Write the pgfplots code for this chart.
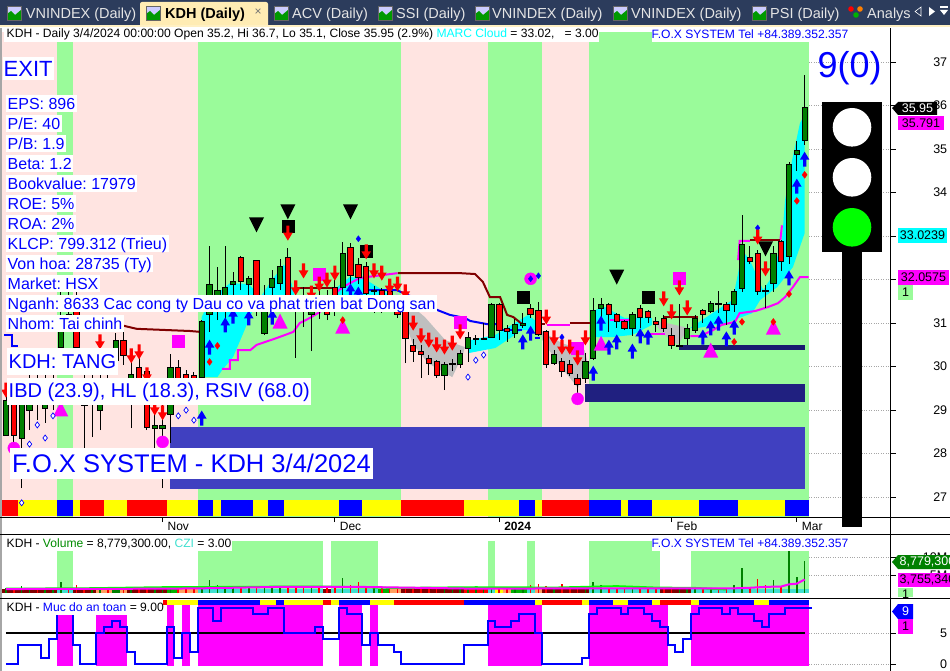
\documentclass[border=0pt]{standalone}
\usepackage{pgfplots}
\pgfplotsset{compat=1.18}
\usepackage{fontspec}
\setmainfont{Liberation Sans}
\frenchspacing
\definecolor{pg}{RGB}{154,251,154}
\definecolor{pk}{RGB}{255,228,225}
\definecolor{cg}{RGB}{0,128,0}
\definecolor{magenta}{RGB}{255,0,255}
\definecolor{cyan}{RGB}{0,255,255}
\definecolor{yellow}{RGB}{255,255,0}
\definecolor{nav1}{RGB}{64,64,192}
\definecolor{nav2}{RGB}{32,32,128}
\definecolor{nav3}{RGB}{25,25,112}
\definecolor{dred}{RGB}{128,0,0}
\definecolor{turq}{RGB}{64,224,208}
\definecolor{orng}{RGB}{255,160,96}
\definecolor{barbg}{RGB}{44,60,92}
\definecolor{tabbg}{RGB}{255,236,180}
\newcommand\BB[5]{\addplot[fill=#5,draw=none,forget plot] coordinates {(#1,#3)(#2,#3)(#2,#4)(#1,#4)} --cycle;}
\newcommand\Cndl[6]{\pgfmathsetmacro\xa{#2-.34}\pgfmathsetmacro\xb{#2+.34}%
\edef\tmp{\noexpand\addplot[black,line width=.9pt,forget plot] coordinates {(#2,#6)(#2,#5)};
\noexpand\addplot[fill=#1,draw=black,line width=.9pt,forget plot] coordinates {(\xa,#4)(\xb,#4)(\xb,#3)(\xa,#3)} --cycle;}\tmp}
\newcommand\CG[5]{\Cndl{cg}{#1}{#2}{#3}{#4}{#5}}
\newcommand\CR[5]{\Cndl{red}{#1}{#2}{#3}{#4}{#5}}
\pgfdeclareplotmark{arrU}{\pgfpathmoveto{\pgfpoint{0pt}{7.5pt}}\pgfpathlineto{\pgfpoint{4.8pt}{-.5pt}}\pgfpathlineto{\pgfpoint{1.6pt}{-.5pt}}\pgfpathlineto{\pgfpoint{1.6pt}{-7.5pt}}\pgfpathlineto{\pgfpoint{-1.6pt}{-7.5pt}}\pgfpathlineto{\pgfpoint{-1.6pt}{-.5pt}}\pgfpathlineto{\pgfpoint{-4.8pt}{-.5pt}}\pgfpathclose\pgfusepathqfill}
\pgfdeclareplotmark{arrD}{\pgfpathmoveto{\pgfpoint{0pt}{-7.5pt}}\pgfpathlineto{\pgfpoint{4.8pt}{.5pt}}\pgfpathlineto{\pgfpoint{1.6pt}{.5pt}}\pgfpathlineto{\pgfpoint{1.6pt}{7.5pt}}\pgfpathlineto{\pgfpoint{-1.6pt}{7.5pt}}\pgfpathlineto{\pgfpoint{-1.6pt}{.5pt}}\pgfpathlineto{\pgfpoint{-4.8pt}{.5pt}}\pgfpathclose\pgfusepathqfill}
\pgfdeclareplotmark{triD}{\pgfpathmoveto{\pgfpoint{0pt}{-7.5pt}}\pgfpathlineto{\pgfpoint{7.5pt}{7.5pt}}\pgfpathlineto{\pgfpoint{-7.5pt}{7.5pt}}\pgfpathclose\pgfusepathqfill}
\pgfdeclareplotmark{triU}{\pgfpathmoveto{\pgfpoint{0pt}{7.5pt}}\pgfpathlineto{\pgfpoint{7.5pt}{-7.5pt}}\pgfpathlineto{\pgfpoint{-7.5pt}{-7.5pt}}\pgfpathclose\pgfusepathqfill}
\pgfplotsset{panel/.style={scale only axis,width=890.7pt,xmin=-0.766,xmax=112.99,
  axis y line*=right,tick align=outside,major tick length=5pt,tick style={black,line width=.8pt},
  axis line style={draw=none},ymajorgrids,grid style={dotted,black!35,line width=.8pt},
  /pgf/number format/assume math mode=true,
  yticklabel style={font=\fontsize{12.5}{13}\selectfont,anchor=east}}}
\tikzset{wb/.style={fill=white,inner xsep=1.5pt,inner ysep=1pt,anchor=west,text=blue,text height=13.5pt,text depth=1.5pt,font=\fontsize{16}{16}\selectfont},
 tag/.style={anchor=center,font=\fontsize{12.5}{13}\selectfont,inner sep=0pt}}
\newcommand\tabicon[1]{\fill[white!80!blue] (#1,-20) rectangle +(14,14);\fill[green!60!black] (#1,-20) -- +(0,6) -- +(4,9) -- +(8,5) -- +(14,10) -- +(14,0) -- cycle;\draw[black!60,line width=.5pt] (#1,-20) rectangle +(14,14);}
\begin{document}
\begin{tikzpicture}[x=1pt,y=1pt]
\fill[white] (0,0) rectangle (950,-671);
% ---- main panel
\begin{axis}[panel,at={(0pt,-517pt)},anchor=south west,height=485pt,ymin=26.544,ymax=37.694,
 axis x line*=bottom,
 xtick={20,42,63,85,101},xticklabels={Nov,Dec,\textbf{2024},Feb,Mar},
 xticklabel style={anchor=north west,font=\fontsize{12}{12}\selectfont,xshift=1.5pt,yshift=3.5pt},
 ytick={27,28,...,37},yticklabel style={xshift=55pt}]
\BB{-0.5}{6.5}{26.55}{37.69}{pk}\BB{6.5}{8.5}{26.55}{37.69}{pg}\BB{8.5}{24.5}{26.55}{37.69}{pk}
\BB{24.5}{50.5}{26.55}{37.69}{pg}\BB{50.5}{61.5}{26.55}{37.69}{pk}\BB{61.5}{68.5}{26.55}{37.69}{pg}
\BB{68.5}{74.5}{26.55}{37.69}{pk}\BB{74.5}{102.5}{26.55}{37.69}{pg}
% bottom colour strip
\BB{-0.5}{1.5}{26.56}{26.94}{red}\BB{1.5}{6.5}{26.56}{26.94}{yellow}\BB{6.5}{8.5}{26.56}{26.94}{blue}
\BB{8.5}{9.5}{26.56}{26.94}{yellow}\BB{9.5}{12.5}{26.56}{26.94}{red}\BB{12.5}{15.5}{26.56}{26.94}{yellow}
\BB{15.5}{20.5}{26.56}{26.94}{red}\BB{20.5}{24.5}{26.56}{26.94}{yellow}\BB{24.5}{26.5}{26.56}{26.94}{blue}
\BB{26.5}{27.5}{26.56}{26.94}{yellow}\BB{27.5}{31.5}{26.56}{26.94}{blue}\BB{31.5}{33.5}{26.56}{26.94}{yellow}
\BB{33.5}{35.5}{26.56}{26.94}{blue}\BB{35.5}{42.5}{26.56}{26.94}{yellow}\BB{42.5}{45.5}{26.56}{26.94}{blue}
\BB{45.5}{50.5}{26.56}{26.94}{yellow}\BB{50.5}{58.5}{26.56}{26.94}{red}\BB{58.5}{65.5}{26.56}{26.94}{yellow}
\BB{65.5}{67.5}{26.56}{26.94}{blue}\BB{67.5}{68.5}{26.56}{26.94}{yellow}\BB{68.5}{74.5}{26.56}{26.94}{red}
\BB{74.5}{78.5}{26.56}{26.94}{blue}\BB{78.5}{79.5}{26.56}{26.94}{yellow}\BB{79.5}{82.5}{26.56}{26.94}{blue}
\BB{82.5}{88.5}{26.56}{26.94}{yellow}\BB{88.5}{93.5}{26.56}{26.94}{blue}\BB{93.5}{99.5}{26.56}{26.94}{yellow}
\BB{99.5}{102.5}{26.56}{26.94}{blue}
% zones
\BB{21}{102}{27.19}{28.61}{nav1}\BB{74}{102}{29.19}{29.60}{nav2}\BB{86}{102}{30.38}{30.50}{nav3}
% cloud
\addplot[fill=cyan,draw=none,forget plot] coordinates {(25,29.76)(25,31.14)(26,31.53)(28.6,31.92)(31,31.9)(32.5,31.6)(34,32.0)(35.5,32.35)(36.5,31.9)(37,31.5)(32.05,31.53)(30.3,30.77)(29,30.22)(27.6,29.92)(27,29.76)} --cycle;
\addplot[fill=cyan,draw=none,forget plot] coordinates {(42.3,31.83)(43.9,32.06)(45.6,32.04)(48.1,31.76)(49.7,31.5)(42.3,31.5)} --cycle;
\addplot[fill=black!25,draw=none,forget plot] coordinates {(49.7,31.72)(53.5,31.14)(56.1,30.61)(58.6,30.45)(58.4,30.31)(57,29.76)(53.9,30.08)(51.9,30.54)(50.6,31.23)} --cycle;
\addplot[fill=cyan,draw=none,forget plot] coordinates {(59,30.31)(59.3,30.61)(62.5,30.73)(64.6,30.96)(66.7,31.19)(67.8,31.03)(67.6,30.84)(65.9,30.84)(62.5,30.43)} --cycle;
\addplot[fill=black!25,draw=none,forget plot] coordinates {(68.2,30.84)(71,30.54)(73.9,30.38)(74.2,30.15)(73.05,29.51)(70.5,30.08)(68.5,30.61)} --cycle;
\addplot[fill=cyan,draw=none,forget plot] coordinates {(75.2,31.30)(76.5,31.37)(79,31.12)(82.5,31.12)(82.5,30.96)(80,30.73)(77.4,30.68)(75.2,30.68)} --cycle;
\addplot[fill=black!25,draw=none,forget plot] coordinates {(82.6,31.07)(86.7,30.91)(87,30.84)(85.8,30.50)(83.8,30.77)} --cycle;
\addplot[fill=cyan,draw=none,forget plot] coordinates {(87.4,30.89)(91.8,31.42)(92.8,31.53)(93.5,32.15)(94,32.68)(95,32.45)(96.7,31.76)(97.8,32.06)(99.1,32.91)(99.5,33.83)(100.4,34.75)(101.4,35.6)(102,35.79)(102,33.07)(100.5,32.29)(98.5,31.83)(96.3,31.53)(95.3,31.23)(91.8,31.0)(88.4,30.89)} --cycle;
% lines
\addplot[magenta,line width=2pt,forget plot] coordinates {(27.6,29.95)(28.6,29.95)(28.6,30.15)(29.6,30.15)(29.6,30.38)(31.2,30.38)(32,30.5)(34.6,30.66)(36.7,30.80)(37.5,31.0)(38.8,31.12)(40.1,31.26)(41.5,31.6)(43,31.83)(45.2,32.04)(50,32.15)};
\addplot[magenta,line width=2pt,forget plot] coordinates {(69.1,30.96)(72,30.96)};
\addplot[magenta,line width=2pt,forget plot] coordinates {(77.1,31.07)(79.7,31.07)};
\addplot[magenta,line width=2pt,forget plot] coordinates {(82,30.75)(84.2,30.75)};
\addplot[magenta,line width=2pt,forget plot] coordinates {(87.4,30.70)(88.6,30.70)(90.3,30.84)(91.4,30.96)(93.1,31.03)(93.7,31.23)(95.7,31.28)(97.3,31.37)(98.6,31.46)(99.5,31.60)(100.5,31.83)(101.4,32.06)(102.5,32.06)};
\addplot[magenta,line width=2pt,forget plot] coordinates {(93.5,32.45)(93.7,32.89)(95,32.89)};
\addplot[magenta,line width=2pt,forget plot] coordinates {(98.9,32.91)(99.1,33.25)};
\addplot[blue,line width=2pt,forget plot] coordinates {(-0.25,30.73)(.77,30.73)(.77,30.48)(1.5,30.48)};
\addplot[blue,line width=2pt,forget plot] coordinates {(45.6,31.76)(49.9,31.76)(53.3,31.49)(54.2,31.37)(55.4,31.28)(56.7,31.19)(58.6,31.12)(59.3,31.05)(61.4,30.98)(63,30.98)};
\addplot[blue,line width=2pt,forget plot] coordinates {(63.5,30.84)(65.9,30.84)};
\addplot[blue,line width=2pt,forget plot] coordinates {(67.5,30.66)(68.2,30.66)};
\addplot[dred,line width=2pt,forget plot] coordinates {(14.6,30.96)(16.2,30.89)(16.7,30.87)(23.5,30.82)(24.8,30.80)};
\addplot[dred,line width=2pt,forget plot] coordinates {(37.2,31.8)(42,31.8)};
\addplot[dred,line width=2pt,forget plot] coordinates {(50.06,32.15)(58,32.15)(59.9,32.13)(60.9,31.95)(61.8,31.60)(63.1,31.60)(64,31.19)(64.8,31.14)(65.9,30.98)};
\addplot[dred,line width=2pt,forget plot] coordinates {(68.1,30.98)(68.8,30.98)};
\addplot[dred,line width=2pt,forget plot] coordinates {(72,31.0)(74.8,31.0)};
\addplot[dred,line width=2pt,forget plot] coordinates {(83.9,31.14)(88.4,31.14)};
\addplot[dred,line width=2pt,forget plot] coordinates {(95,32.91)(98.9,32.91)};
% candles: index, body top, body bottom, high, low
\CG{0}{29.23}{28.41}{29.35}{28.41}\CR{1}{29.23}{28.41}{29.35}{28.20}\CG{2}{29.33}{28.34}{29.58}{27.21}
\CG{3}{29.35}{29.00}{29.81}{28.54}\CR{4}{29.28}{29.19}{29.81}{28.77}\CG{5}{29.35}{29.03}{29.81}{28.71}
\CG{6}{29.74}{29.35}{30.15}{29.00}\CG{7}{30.96}{30.45}{31.72}{29.81}\CR{8}{31.19}{30.89}{31.72}{30.84}
\CR{9}{31.53}{30.45}{31.72}{29.81}\CR{10}{29.58}{29.12}{30.15}{28.13}\CG{11}{29.58}{29.23}{30.04}{28.38}
\CG{12}{29.58}{29.00}{30.38}{28.54}\CR{13}{29.58}{29.35}{30.04}{29.12}\CG{14}{30.61}{30.15}{30.77}{29.81}
\CR{15}{30.61}{30.25}{30.89}{30.04}\CG{16}{29.81}{29.35}{30.27}{28.59}\CR{17}{29.99}{29.46}{30.38}{29.35}
\CR{18}{29.88}{28.61}{29.97}{28.54}\CG{19}{28.64}{28.59}{29.23}{28.13}\CG{20}{28.64}{28.59}{29.23}{27.21}
\CG{21}{29.99}{28.91}{30.29}{28.25}\CR{22}{29.99}{29.35}{30.15}{29.23}\CR{23}{29.81}{29.65}{29.92}{29.35}
\CR{24}{29.79}{29.69}{29.88}{29.42}\CG{25}{31.03}{29.76}{31.07}{29.69}\CG{26}{31.90}{31.21}{32.77}{30.80}
\CG{27}{31.76}{31.53}{32.29}{31.07}\CG{28}{31.81}{31.53}{32.77}{31.07}\CG{29}{31.95}{31.90}{32.18}{31.26}
\CR{30}{32.50}{31.95}{32.54}{31.76}\CG{31}{32.02}{31.90}{32.09}{31.65}\CR{32}{32.45}{31.53}{32.45}{31.17}
\CG{33}{31.46}{30.77}{31.88}{30.73}\CG{34}{32.02}{31.83}{32.22}{31.53}\CG{35}{32.31}{31.92}{32.47}{31.76}
\CR{36}{32.50}{31.53}{32.73}{31.26}\CR{37}{31.62}{31.49}{31.76}{30.20}\CR{38}{31.58}{31.49}{31.83}{30.91}
\CG{39}{31.30}{31.19}{31.83}{30.36}\CR{40}{31.58}{31.35}{31.83}{31.10}\CR{41}{31.53}{31.21}{31.76}{31.07}
\CR{42}{31.81}{31.42}{32.0}{31.17}\CG{43}{32.61}{31.81}{32.87}{31.53}\CR{44}{32.75}{32.09}{32.84}{31.76}
\CR{45}{32.36}{32.04}{32.50}{31.90}\CR{46}{32.31}{31.69}{32.41}{31.53}\CG{47}{31.76}{31.72}{31.85}{31.23}
\CR{48}{31.76}{31.62}{31.81}{31.23}\CR{49}{31.72}{31.53}{31.81}{31.26}\CR{50}{31.53}{31.21}{31.65}{31.12}
\CR{51}{31.42}{30.66}{31.53}{30.08}\CR{52}{30.48}{30.34}{30.64}{30.11}\CR{53}{30.36}{30.29}{30.50}{29.74}
\CR{54}{30.20}{30.08}{30.27}{29.81}\CR{55}{30.11}{29.79}{30.15}{29.74}\CG{56}{30.06}{29.79}{30.11}{29.46}
\CG{57}{30.07}{30.05}{30.18}{29.90}\CG{58}{30.31}{30.04}{30.38}{29.97}\CG{59}{30.68}{30.43}{30.80}{30.11}
\CG{60}{30.66}{30.63}{30.73}{30.50}\CG{61}{30.66}{30.63}{31.00}{30.64}\CG{62}{31.42}{30.68}{31.46}{30.66}
\CR{63}{31.42}{30.84}{31.46}{30.61}\CR{64}{30.87}{30.80}{30.96}{30.57}\CG{65}{30.96}{30.77}{31.10}{30.66}
\CG{66}{31.0}{30.94}{31.23}{30.89}\CR{67}{31.35}{31.21}{31.44}{31.12}\CR{68}{31.30}{30.75}{31.49}{30.71}
\CR{69}{30.80}{30.04}{30.84}{29.97}\CG{70}{30.27}{30.08}{30.38}{30.04}\CR{71}{30.11}{29.88}{30.20}{29.76}
\CR{72}{30.06}{29.85}{30.15}{29.79}\CR{73}{29.72}{29.60}{29.83}{29.33}\CG{74}{30.13}{29.72}{30.31}{29.62}
\CG{75}{31.30}{30.20}{31.58}{30.15}\CG{76}{31.42}{31.35}{31.58}{31.14}\CR{77}{31.42}{31.19}{31.46}{30.80}
\CR{78}{31.21}{31.03}{31.23}{30.89}\CR{79}{31.03}{30.89}{31.07}{30.84}\CG{80}{31.21}{30.89}{31.26}{30.71}
\CR{81}{31.35}{31.14}{31.42}{30.89}\CR{82}{31.26}{31.14}{31.30}{31.0}\CR{83}{31.05}{30.98}{31.14}{30.80}
\CR{84}{31.10}{30.89}{31.19}{30.80}\CR{85}{30.71}{30.48}{30.89}{30.41}\CG{86}{30.49}{30.47}{31.44}{30.45}
\CG{87}{30.87}{30.66}{30.98}{30.50}\CG{88}{31.10}{30.84}{31.19}{30.77}\CR{89}{31.30}{31.21}{31.33}{31.0}
\CG{90}{31.46}{31.28}{31.51}{31.23}\CR{91}{31.46}{31.42}{31.74}{31.23}\CR{92}{31.42}{31.30}{31.49}{30.96}
\CG{93}{31.72}{31.42}{31.79}{31.26}\CG{94}{32.80}{31.79}{33.49}{31.72}\CR{95}{32.50}{32.41}{32.77}{32.36}
\CR{96}{32.61}{31.74}{32.68}{31.65}\CG{97}{31.75}{31.73}{31.88}{31.35}\CG{98}{32.61}{31.92}{32.77}{31.72}
\CR{99}{32.87}{32.41}{32.91}{32.20}\CG{100}{34.66}{32.54}{34.71}{32.36}\CG{101}{34.96}{34.89}{35.19}{34.50}
\CG{102}{35.95}{35.2}{36.7}{35.1}
% signals
\addplot[only marks,mark=square*,mark size=6pt,mark options={draw=black,fill=black},forget plot] coordinates {(36,33.23)(46,32.66)(66,31.60)(82,31.60)};
\addplot[only marks,mark=square*,mark size=6pt,mark options={draw=magenta,fill=magenta},forget plot] coordinates {(22,30.59)(40,32.13)(58,31.03)(73,30.43)(86,32.04)};
\addplot[only marks,mark=*,mark size=6pt,mark options={draw=magenta,fill=magenta},forget plot] coordinates {(20,28.27)(73,29.26)(67,32.02)(1,28.13)};
\addplot[only marks,mark=triD,mark options={fill=black,draw=black},forget plot] coordinates {(32,33.26)(36,33.56)(44,33.56)(78,32.06)(97,32.71)};
\addplot[only marks,mark=triU,mark options={fill=magenta,draw=magenta},forget plot] coordinates {(35,31.05)(43,30.93)(7,29.03)(76,30.54)(90,30.38)(98,30.91)};
\addplot[only marks,mark=diamond*,mark size=3.4pt,mark options={draw=red,fill=red},forget plot] coordinates {(26,30.11)(27,30.48)(43,31.07)(93,30.57)(94,31.03)(98,31.03)(100,31.67)(101,33.81)(102,34.41)};
\addplot[only marks,mark=diamond*,mark size=3pt,mark options={draw=blue,fill=blue},forget plot] coordinates {(67,32.02)(68,32.09)(45,32.94)(71,30.68)(96,33.19)};
\addplot[only marks,mark=diamond*,mark size=3pt,mark options={draw=blue,fill=white,line width=.7pt},forget plot] coordinates {(3,28.22)(4,28.66)(5,28.36)(6,28.87)(22,28.87)(23,29.0)(24,28.77)(60,30.15)(61,30.27)(59,29.76)(2,26.87)};
\addplot[only marks,mark=arrD,mark options={fill=red,draw=none},forget plot] coordinates {(0,29.46)(12,30.57)(16,30.25)(17,30.34)(18,29.81)(19,29.05)(20,28.94)(36,33.07)(38,32.20)(37,31.81)(39,31.69)(40,31.90)(41,31.99)(42,32.15)(46,32.64)(47,32.20)(48,32.15)(49,31.85)(50,31.90)(51,31.72)(52,31.0)(53,30.71)(54,30.61)(55,30.50)(56,30.45)(57,30.54)(58,30.80)(69,31.14)(70,30.66)(71,30.45)(72,30.45)(73,30.20)(74,30.66)(84,31.56)(85,31.26)(86,31.81)(87,31.35)(96,32.98)(97,32.25)};
\addplot[only marks,mark=arrU,mark options={fill=blue,draw=none},forget plot] coordinates {(25,28.82)(26,30.45)(28,30.96)(29,31.16)(31,31.12)(34,31.14)(44,31.74)(45,31.67)(66,30.57)(67,30.77)(75,29.85)(76,31.0)(77,30.45)(78,30.57)(80,30.36)(81,30.71)(82,30.68)(89,30.68)(90,30.89)(91,31.0)(92,30.64)(93,30.91)(100,32.04)(101,34.15)(102,34.77)};
\end{axis}
% ---- volume panel (millions)
\begin{axis}[panel,at={(0pt,-598pt)},anchor=south west,height=63pt,ymin=-1.39,ymax=16.11,
 axis x line=none,ytick={5,10},yticklabels={5M,10M},yticklabel style={xshift=55pt}]
\BB{-1}{102.5}{-1.3}{16}{white}
\BB{6.5}{8.5}{0}{11.6}{pg}\BB{24.5}{40.5}{0}{14.4}{pg}\BB{41.5}{47.5}{0}{14.4}{pg}\BB{61.5}{62.5}{0}{14.4}{pg}
\BB{66.5}{67.5}{0}{14.4}{pg}\BB{74.5}{83.5}{0}{14.4}{pg}\BB{87.5}{102.5}{0}{11.6}{pg}
\BB{-0.5}{102.5}{0}{1.0}{dred}
\BB{6.5}{8.5}{0}{1.0}{turq}\BB{24.5}{40.5}{0}{1.0}{turq}\BB{41.5}{47.5}{0}{1.0}{turq}\BB{61.5}{62.5}{0}{1.0}{turq}
\BB{74.5}{83.5}{0}{1.0}{turq}\BB{87.5}{102.5}{0}{1.0}{turq}\BB{66.5}{67.5}{0}{1.0}{turq}
\BB{11.5}{13.5}{0}{1.0}{orng}\BB{13.5}{14.5}{0}{1.0}{cg}\BB{14.5}{15.5}{0}{1.0}{orng}\BB{20.5}{22}{0}{1.0}{green!70!black}
\BB{22}{24.5}{0}{1.0}{orng}\BB{47.5}{49}{0}{1.0}{green!70!black}\BB{49}{50.5}{0}{1.0}{orng}\BB{62.5}{63.5}{0}{1.0}{yellow}
\BB{63.5}{64.5}{0}{1.0}{orng}\BB{64.5}{66.5}{0}{1.0}{green!70!black}\BB{67.5}{68.5}{0}{1.0}{orng}\BB{58.5}{61.5}{0}{1.0}{red}
\addplot[ycomb,cg,line width=1.6pt,forget plot] coordinates {(0,1.3)(2,2.0)(3,1.3)(5,1.4)(6,1.3)(7,3.05)(11,1.3)(12,1.3)(14,1.4)(16,1.5)(19,1.3)(20,1.4)(21,1.3)(25,1.5)(26,3.5)(27,2.2)(28,1.7)(29,1.8)(31,1.4)(33,1.6)(34,1.5)(35,1.4)(39,1.4)(43,4.1)(47,1.4)(56,1.6)(57,1.3)(58,1.4)(59,1.5)(60,1.4)(61,1.3)(62,1.4)(65,1.5)(66,1.6)(70,1.4)(74,1.5)(75,3.1)(76,2.1)(80,1.4)(86,1.4)(87,1.4)(88,1.4)(90,1.4)(93,2.1)(94,6.85)(98,3.5)(100,11.67)(101,4.35)(102,8.78)};
\addplot[ycomb,red,line width=1.6pt,forget plot] coordinates {(1,1.3)(4,1.3)(8,1.4)(9,2.2)(10,1.4)(13,1.3)(15,1.5)(17,1.3)(18,1.4)(22,1.3)(23,1.4)(24,1.5)(30,1.9)(32,1.5)(36,1.5)(37,1.4)(38,1.4)(40,1.5)(41,1.4)(42,1.3)(44,2.2)(45,3.05)(46,2.0)(48,1.5)(49,1.4)(50,1.3)(51,1.4)(52,1.5)(53,1.3)(54,1.4)(55,1.3)(63,1.4)(64,1.3)(67,2.1)(68,2.6)(69,1.9)(71,2.6)(72,1.5)(73,1.4)(77,1.4)(78,1.4)(79,1.3)(81,1.3)(82,1.4)(83,1.3)(84,1.4)(85,1.3)(89,1.3)(91,1.3)(92,1.5)(95,1.4)(96,3.8)(97,2.1)(99,1.6)};
\addplot[green,line width=2pt,forget plot] coordinates {(0,1.2)(10,1.3)(20,1.6)(30,1.7)(40,1.8)(50,1.4)(60,1.6)(70,1.5)(78,1.9)(83,1.5)(88,1.4)(92,1.0)};
\addplot[magenta,line width=2pt,forget plot] coordinates {(0,1.1)(20,1.2)(25,1.3)(35,1.7)(45,1.7)(60,1.2)(75,1.3)(85,1.3)(93,1.3)(95,1.45)(97,1.7)(99,1.8)(100,2.4)(101,2.6)(102,3.75)};
\end{axis}
% ---- safety panel
\begin{axis}[panel,at={(0pt,-671pt)},anchor=south west,height=73pt,ymin=-1.13,ymax=10.65,
 axis x line=none,ytick={0,5},yticklabel style={xshift=55pt}]
\BB{-1}{102.5}{-1.1}{10.6}{white}
\BB{6.5}{8.5}{-0.27}{7.9}{magenta}\BB{11.5}{15.5}{-0.27}{7.9}{magenta}\BB{20.5}{21.5}{-0.27}{9.52}{magenta}
\BB{22.5}{23.5}{-0.27}{9.52}{magenta}\BB{24.5}{40.5}{-0.27}{9.52}{magenta}\BB{42.5}{45.5}{-0.27}{9.52}{magenta}
\BB{46.5}{47.5}{-0.27}{9.52}{magenta}\BB{61.5}{68.5}{-0.27}{9.52}{magenta}\BB{74.5}{84.5}{-0.27}{9.52}{magenta}
\BB{87.5}{102.5}{-0.27}{9.52}{magenta}
\BB{19.5}{20.5}{9.52}{10.32}{red}\BB{20.5}{24.5}{9.52}{10.32}{yellow}\BB{24.5}{32.5}{9.52}{10.32}{blue}
\BB{32.5}{34.5}{9.52}{10.32}{yellow}\BB{34.5}{35.5}{9.52}{10.32}{blue}\BB{35.5}{40.5}{9.52}{10.32}{yellow}
\BB{40.5}{41.5}{9.52}{10.32}{red}\BB{41.5}{42.5}{9.52}{10.32}{yellow}\BB{42.5}{46.5}{9.52}{10.32}{blue}
\BB{46.5}{49.5}{9.52}{10.32}{yellow}\BB{49.5}{58.5}{9.52}{10.32}{red}\BB{58.5}{67.5}{9.52}{10.32}{blue}
\BB{67.5}{68.5}{9.52}{10.32}{yellow}\BB{68.5}{73.5}{9.52}{10.32}{red}\BB{73.5}{74.5}{9.52}{10.32}{yellow}
\BB{74.5}{77.5}{9.52}{10.32}{blue}\BB{77.5}{79.5}{9.52}{10.32}{yellow}\BB{79.5}{82.5}{9.52}{10.32}{blue}
\BB{82.5}{83.5}{9.52}{10.32}{yellow}\BB{83.5}{87.5}{9.52}{10.32}{red}\BB{87.5}{88.5}{9.52}{10.32}{yellow}
\BB{88.5}{95.5}{9.52}{10.32}{blue}\BB{95.5}{97.5}{9.52}{10.32}{yellow}\BB{97.5}{102.5}{9.52}{10.32}{blue}
\addplot[black,line width=2pt,forget plot] coordinates {(0,5.05)(102,5.05)};
\addplot[blue,line width=2pt,const plot mark mid,forget plot] coordinates {(0,0)(1,0)(2,3)(3,3)(4,3)(5,1)(6,4)(7,8)(8,8)(9,3)(10,0)(11,0)(12,5)(13,6)(14,7)(15,6)(16,2)(17,0)(18,0)(19,0)(20,0)(21,6)(22,1)(23,5)(24,2)(25,9)(26,9)(27,7)(28,9)(29,9)(30,9)(31,9)(32,8)(33,8)(34,9)(35,9)(36,5)(37,5)(38,5)(39,5)(40,6)(41,4)(42,4)(43,9)(44,8)(45,8)(46,3)(47,5)(48,3)(49,3)(50,2)(51,0)(52,0)(53,0)(54,0)(55,0)(56,0)(57,0)(58,0)(59,3)(60,3)(61,3)(62,7)(63,6)(64,6)(65,7)(66,8)(67,8)(68,5)(69,0)(70,0)(71,0)(72,0)(73,0)(74,1)(75,8)(76,9)(77,9)(78,9)(79,8)(80,9)(81,9)(82,8)(83,7)(84,6)(85,3)(86,2)(87,4)(88,8)(89,9)(90,9)(91,9)(92,8)(93,9)(94,8)(95,8)(96,7)(97,6)(98,8)(99,8)(100,9)(101,9)(102,9)(102.9,9)};
\end{axis}
% ---- frame
\fill[black!35] (0,-27) rectangle (1.8,-671);
\draw[black,line width=1pt] (0,-517) -- (950,-517);
\draw[black,line width=1pt] (0,-534) -- (950,-534);
\draw[black,line width=1pt] (0,-598) -- (950,-598);
\draw[black,line width=1pt] (890.7,-27) -- (890.7,-671);
% ---- tab bar
\fill[barbg] (0,0) rectangle (950,-26);
\fill[tabbg!80!white] (0,-25) rectangle (950,-27);
\fill[tabbg,rounded corners=2pt] (140,-2) rectangle (268,-30);
\fill[white] (0,-27) rectangle (950,-28);
\fill[white] (3,-28) rectangle (890,-32);
\fill[tabbg!80!white] (140,-25) rectangle (268,-27);
\tabicon{7}\tabicon{146}\tabicon{274}\tabicon{378}\tabicon{475}\tabicon{613}\tabicon{752}
\fill[red] (851,-9) circle (2.8);\fill[green!70!black] (856,-15) circle (2.8);\fill[orange] (860,-9) circle (2.8);
\tikzset{tabt/.style={anchor=base west,inner sep=0pt,font=\fontsize{14.5}{15}\selectfont,text=white!90!black}}
\node[tabt] at (25.7,-18.5) {VNINDEX (Daily)};
\node[tabt,text=black,font=\fontsize{14.5}{15}\selectfont\bfseries] at (165,-18.5) {KDH (Daily)};
\node[anchor=center,inner sep=0pt,text=black!55,font=\fontsize{12}{12}\selectfont] at (258,-12.5) {×};
\node[tabt] at (292,-18.5) {ACV (Daily)};
\node[tabt] at (396,-18.5) {SSI (Daily)};
\node[tabt] at (492,-18.5) {VNINDEX (Daily)};
\node[tabt] at (631,-18.5) {VNINDEX (Daily)};
\node[tabt] at (770,-18.5) {PSI (Daily)};
\node[tabt] at (867,-18.5) {Analys};
\draw[white,line width=.6pt] (921,-7) -- (915,-11.5) -- (921,-16) -- cycle;
\fill[white] (929,-7) -- (935,-11.5) -- (929,-16) -- cycle;
\fill[white] (940,-6.5) rectangle (948,-8);\fill[white] (940,-10) -- (948,-10) -- (944,-15) -- cycle;
% ---- header boxes
\fill[white] (4,-28) rectangle (599,-42);
\fill[white] (652,-28) rectangle (847,-42);
\node[anchor=west,inner sep=0pt,font=\fontsize{12.1}{13}\selectfont] at (6.5,-34.5) {KDH - Daily 3/4/2024 00:00:00 Open 35.2, Hi 36.7, Lo 35.1, Close 35.95 (2.9\%) \textcolor{cyan}{MARC Cloud} = 33.02, \ \ = 3.00};
\node[anchor=west,inner sep=0pt,text=blue,font=\fontsize{12.1}{13}\selectfont] at (651.5,-34.5) {F.O.X SYSTEM Tel +84.389.352.357};
% ---- left info
\node[wb,font=\fontsize{22}{22}\selectfont,text height=18pt,text depth=3pt,inner xsep=1pt] at (2.5,-69) {EXIT};
\node[wb] at (6,-103.5) {EPS: 896};
\node[wb] at (6,-123.5) {P/E: 40};
\node[wb] at (6,-143.5) {P/B: 1.9};
\node[wb] at (6,-163.5) {Beta: 1.2};
\node[wb] at (6,-183.5) {Bookvalue: 17979};
\node[wb] at (6,-203.5) {ROE: 5\%};
\node[wb] at (6,-223.5) {ROA: 2\%};
\node[wb] at (6,-243.5) {KLCP: 799.312 (Trieu)};
\node[wb] at (6,-263.5) {Von hoa: 28735 (Ty)};
\node[wb] at (6,-283.5) {Market: HSX};
\node[wb] at (6,-303.5) {Nganh: 8633 Cac cong ty Dau co va phat trien bat Dong san};
\node[wb] at (6,-323.5) {Nhom: Tai chinh};
\node[wb,font=\fontsize{20}{20}\selectfont,text height=19pt,text depth=6pt] at (7,-361.5) {KDH: TANG};
\node[wb,font=\fontsize{20}{20}\selectfont,text height=19pt,text depth=6pt] at (7,-391) {IBD (23.9), HL (18.3), RSIV (68.0)};
\node[wb,font=\fontsize{25.5}{26}\selectfont,text height=23.5pt,text depth=5.5pt,inner xsep=2pt] at (10,-463.5) {F.O.X SYSTEM - KDH 3/4/2024};
\node[anchor=center,inner sep=0pt,text=blue,font=\fontsize{36}{36}\selectfont] at (849.5,-68) {9(0)};
% ---- traffic light
\fill[black] (822,-102) rectangle (882,-252);
\fill[black] (842,-252) rectangle (862,-527);
\fill[white] (852,-127.3) circle (19.3);
\fill[white] (852,-177.3) circle (19.3);
\fill[green] (852,-227.3) circle (19.3);
% ---- price tags
\fill[black] (892,-108) -- (898,-102) -- (937,-102) -- (937,-115) -- (898,-115) -- cycle;
\node[tag,text=white] at (917.5,-108.5) {35.95};
\fill[magenta] (898,-116) rectangle (944,-130.5);
\node[tag] at (921,-123.5) {35.791};
\fill[cyan] (898,-228) rectangle (947,-243);
\node[tag] at (922.5,-235.5) {33.0239};
\fill[magenta] (898,-270) rectangle (949,-285);
\node[tag] at (923.5,-277.5) {32.0575};
\fill[pg] (898,-285) rectangle (913,-300);
\node[tag] at (905.5,-292.5) {1};
% volume tags
\fill[cg] (892,-562) -- (898,-555) -- (950,-555) -- (950,-569) -- (898,-569) -- cycle;
\node[tag,anchor=west,text=white] at (899.5,-562) {8,779,300};
\fill[magenta] (898,-573) rectangle (950,-587);
\node[tag,anchor=west] at (899.5,-580) {3,755,340};
\fill[pg] (898,-588) rectangle (913,-597);
\node[tag] at (905.5,-594) {1};
% safety tags
\fill[blue] (892,-611.5) -- (898,-604) -- (913,-604) -- (913,-619) -- (898,-619) -- cycle;
\node[tag,text=white] at (905.5,-611.5) {9};
\fill[magenta] (898,-619) rectangle (913,-634);
\node[tag] at (905.5,-626.5) {1};
% ---- panel titles
\fill[white] (5,-536) rectangle (232,-551);
\node[anchor=west,inner sep=0pt,font=\fontsize{12.1}{13}\selectfont] at (6.5,-543.5) {KDH - \textcolor{green!55!black}{Volume} = 8,779,300.00, \textcolor{turq}{CZI} = 3.00};
\fill[white] (652,-536) rectangle (847,-551);
\node[anchor=west,inner sep=0pt,text=blue,font=\fontsize{12.1}{13}\selectfont] at (651.5,-543.5) {F.O.X SYSTEM Tel +84.389.352.357};
\fill[white] (5,-600) rectangle (163,-615);
\node[anchor=west,inner sep=0pt,font=\fontsize{12.1}{13}\selectfont] at (6.5,-607.5) {KDH - \textcolor{blue}{Muc do an toan} = 9.00};
\pgfresetboundingbox
\path[use as bounding box] (0,0) rectangle (950,-671);
\end{tikzpicture}
\end{document}
